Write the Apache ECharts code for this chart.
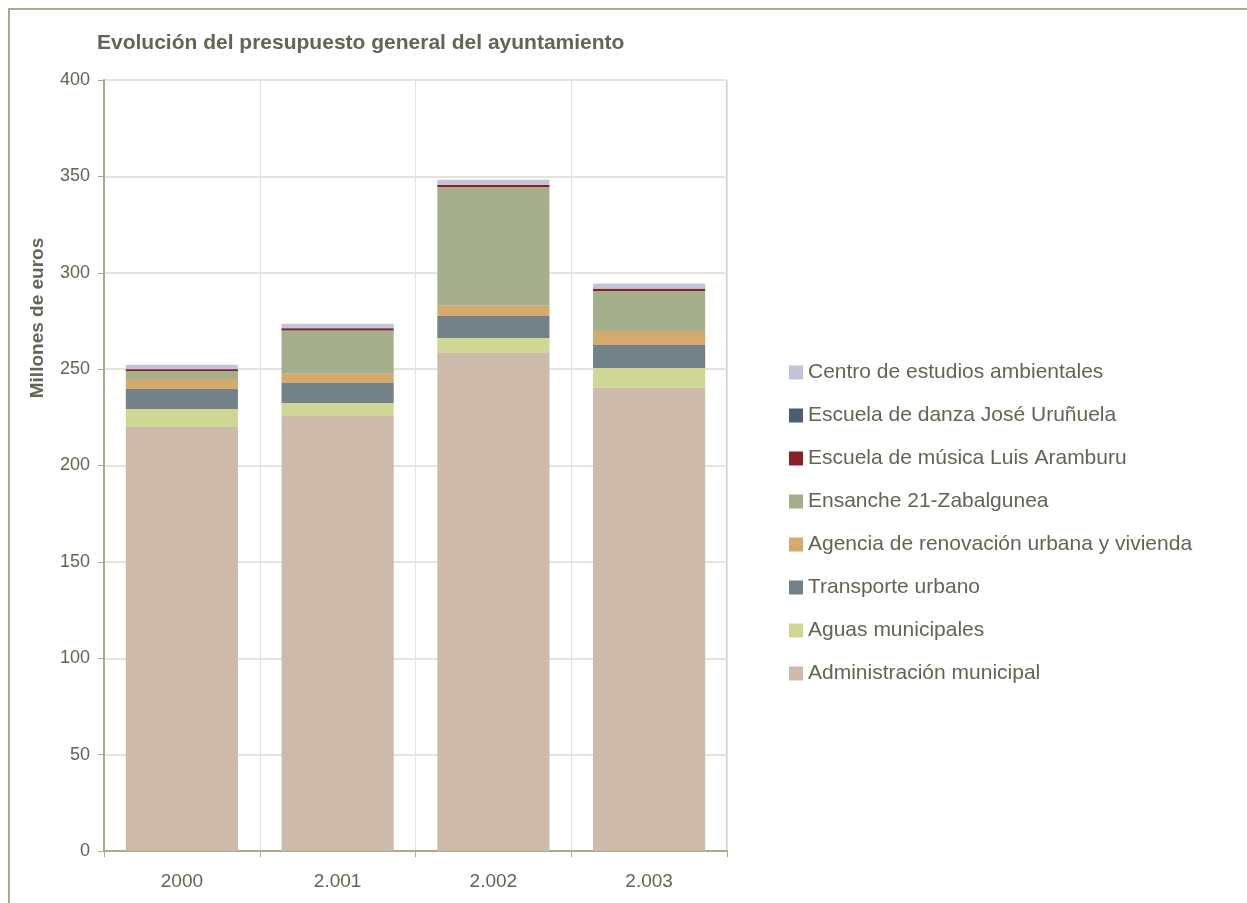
<!DOCTYPE html>
<html>
<head>
<meta charset="utf-8">
<script src="https://cdn.jsdelivr.net/npm/echarts@6/dist/echarts.min.js"></script>
<style>
  html, body { margin: 0; padding: 0; background: #fff; }
  #chart { width: 1247px; height: 903px; }
</style>
</head>
<body>
<div id="chart"></div>
<script>
const years = ['2000', '2.001', '2.002', '2.003'];

// millones de euros
const administracion = [220.0, 225.7, 258.4, 240.4];
const aguas = [9.3, 6.7, 7.8, 10.2];
const transporte = [10.4, 10.4, 11.4, 11.9];
const agencia = [5.2, 4.8, 5.3, 7.3];
const ensanche = [4.1, 22.4, 61.6, 20.7];
const musica = [0.9, 1.0, 1.0, 1.1];
const danza = [0.2, 0.3, 0.2, 0.2];
const centro = [2.2, 2.2, 2.6, 2.6];

const yTicks = [0, 50, 100, 150, 200, 250, 300, 350, 400];

const txt = '#5f6653';
const axisCol = '#a7ad8c';
const gridCol = '#e3e4da';

let chart = echarts.init(document.getElementById('chart'));

function bar(name, data, color) {
    return {
        name: name,
        type: 'bar',
        stack: 'total',
        data: data,
        barCategoryGap: '28%',
        itemStyle: {color: color},
        emphasis: {disabled: true}
    };
}

let option = {
    backgroundColor: '#fff',
    animation: false,
    title: {
        text: 'Evolución del presupuesto general del ayuntamiento',
        left: 92,
        top: 28,
        textStyle: {
            fontFamily: 'Liberation Sans, Arial',
            fontSize: 21,
            fontWeight: 'bold',
            color: txt
        }
    },
    graphic: [
        {
            type: 'rect',
            shape: {x: 9, y: 9, width: 1250, height: 900},
            style: {fill: 'none', stroke: axisCol, lineWidth: 2}
        },
        {
            type: 'text',
            x: 38,
            y: 318,
            rotation: Math.PI / 2,
            style: {
                text: 'Millones de euros',
                fontFamily: 'Liberation Sans, Arial',
                fontSize: 19,
                fontWeight: 'bold',
                fill: txt,
                align: 'center',
                verticalAlign: 'middle'
            }
        }
    ],
    legend: {
        orient: 'vertical',
        left: 784,
        top: 357,
        itemWidth: 14,
        itemHeight: 14,
        itemGap: 22,
        icon: 'rect',
        selectedMode: false,
        textStyle: {
            fontFamily: 'Liberation Sans, Arial',
            fontSize: 21,
            color: txt
        },
        data: ['Centro de estudios ambientales', 'Escuela de danza José Uruñuela',
            'Escuela de música Luis Aramburu', 'Ensanche 21-Zabalgunea',
            'Agencia de renovación urbana y vivienda', 'Transporte urbano',
            'Aguas municipales', 'Administración municipal']
    },
    grid: {
        left: 104,
        top: 80,
        width: 623,
        height: 771,
        show: true,
        borderColor: axisCol,
        borderWidth: 1,
        containLabel: false
    },
    xAxis: {
        type: 'category',
        data: years,
        axisLine: {lineStyle: {color: axisCol, width: 2}},
        axisTick: {show: true, length: 6, lineStyle: {color: axisCol}},
        axisLabel: {
            fontFamily: 'Liberation Sans, Arial',
            fontSize: 19,
            color: txt,
            margin: 21
        },
        splitLine: {show: true, lineStyle: {color: gridCol, width: 1}}
    },
    yAxis: {
        type: 'value',
        min: yTicks[0],
        max: yTicks[yTicks.length - 1],
        interval: 50,
        axisLine: {show: true, lineStyle: {color: axisCol, width: 2}},
        axisTick: {show: true, length: 6, lineStyle: {color: axisCol}},
        axisLabel: {
            fontFamily: 'Liberation Sans, Arial',
            fontSize: 18,
            color: txt,
            margin: 14
        },
        splitLine: {show: true, lineStyle: {color: gridCol, width: 2}}
    },
    series: [
        bar('Administración municipal', administracion, '#cdbaab'),
        bar('Aguas municipales', aguas, '#d0d694'),
        bar('Transporte urbano', transporte, '#738288'),
        bar('Agencia de renovación urbana y vivienda', agencia, '#d4ab6d'),
        bar('Ensanche 21-Zabalgunea', ensanche, '#a6af8c'),
        bar('Escuela de música Luis Aramburu', musica, '#8a1f26'),
        bar('Escuela de danza José Uruñuela', danza, '#4a5e6e'),
        bar('Centro de estudios ambientales', centro, '#c2c5da')
    ]
};

chart.setOption(option);
</script>
</body>
</html>
